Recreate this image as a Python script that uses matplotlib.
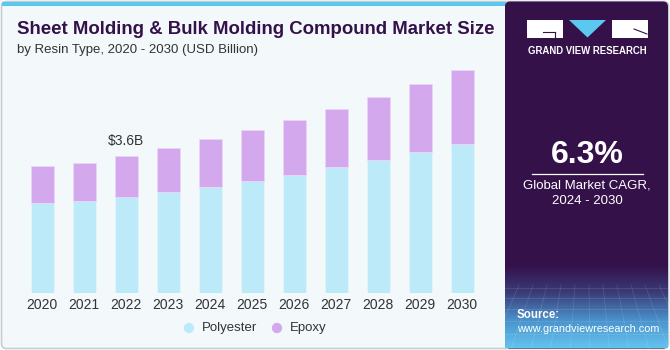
import matplotlib
matplotlib.use("Agg")
import matplotlib.pyplot as plt
import numpy as np
from matplotlib.patches import FancyBboxPatch, Rectangle, Polygon

years = ["2020", "2021", "2022", "2023", "2024", "2025", "2026", "2027", "2028", "2029", "2030"]
polyester = [2.37, 2.41, 2.53, 2.66, 2.79, 2.94, 3.11, 3.30, 3.49, 3.71, 3.92]
epoxy = [0.97, 1.00, 1.07, 1.15, 1.25, 1.34, 1.44, 1.54, 1.66, 1.79, 1.94]
series_names = ["Polyester", "Epoxy"]
series_colors = ["#BDEAF9", "#D4A8EC"]
callout_year = "2022"
callout_text = "$3.6B"

PURPLE = "#35114A"
BG = "#F3F8FB"

plt.rcParams["font.family"] = ["Liberation Sans", "DejaVu Sans"]

W, H = 670, 350
fig = plt.figure(figsize=(W / 100, H / 100), dpi=100)
fig.patch.set_facecolor("white")

# decoration layer in pixel coords (origin top-left)
deco = fig.add_axes([0, 0, 1, 1], zorder=0)
deco.set_xlim(0, W)
deco.set_ylim(H, 0)
deco.axis("off")

deco.add_patch(FancyBboxPatch((1.5, 1.5), W - 3, H - 3, boxstyle="round,pad=0,rounding_size=5",
                              facecolor=BG, edgecolor="#C8CCD0", linewidth=1.2))
deco.add_patch(Rectangle((2, 1.5), 504, 4.5, facecolor="#5BC8EF", edgecolor="none"))

# right panel
deco.add_patch(FancyBboxPatch((505, 1.5), W - 507, H - 3, boxstyle="round,pad=0,rounding_size=5",
                              facecolor=PURPLE, edgecolor="none"))
grad = np.linspace(0, 1, 100)[:, None]
cmap = matplotlib.colors.LinearSegmentedColormap.from_list("g", [PURPLE, "#3A3C78", "#4A92CC", "#63C3EE"])
deco.imshow(grad, cmap=cmap, extent=(505, W - 2, 348, 265), aspect="auto", zorder=1,
            interpolation="bilinear")
deco.set_xlim(0, W)
deco.set_ylim(H, 0)
# faint grid in the gradient area
for x in np.arange(505, W, 14):
    deco.plot([x, x + (x - 587) * 0.4], [285, 348], color="white", alpha=0.12, lw=0.6, zorder=2)
for y in [288, 298, 309, 321, 334]:
    deco.plot([505, W - 2], [y, y], color="white", alpha=0.12, lw=0.6, zorder=2)

# logo
deco.add_patch(Rectangle((527, 20), 36, 17.5, facecolor="white", edgecolor="none", zorder=3))
deco.add_patch(Polygon([(569, 20), (606, 20), (587.5, 37.5)], closed=True, facecolor="#5BC8EF",
                       edgecolor="none", zorder=3))
deco.add_patch(Rectangle((612, 20), 36, 17.5, facecolor="white", edgecolor="none", zorder=3))
deco.plot([543, 555], [32, 32], color=PURPLE, lw=0.8, zorder=4)
deco.plot([555, 555], [32, 37.5], color=PURPLE, lw=0.8, zorder=4)
deco.plot([634, 647], [29, 34], color=PURPLE, lw=0.8, zorder=4)
deco.text(587.5, 51, "GRAND VIEW RESEARCH", color="white", fontsize=6.9, fontweight="bold",
          ha="center", va="center", zorder=4)

deco.text(587, 155, "6.3%", color="white", fontsize=23, fontweight="bold", ha="center", va="center", zorder=4)
deco.plot([532, 643], [173.5, 173.5], color="white", lw=0.9, zorder=4)
deco.text(587, 186, "Global Market CAGR,", color="white", fontsize=9.5, ha="center", va="center", zorder=4)
deco.text(587, 201, "2024 - 2030", color="white", fontsize=9.5, ha="center", va="center", zorder=4)

deco.text(517, 315, "Source:", color="white", fontsize=8.3, fontweight="bold", ha="left", va="center", zorder=4)
deco.text(517, 329.5, "www.grandviewresearch.com", color="white", fontsize=7.8, ha="left", va="center", zorder=4)

# titles
deco.text(17, 30, "Sheet Molding & Bulk Molding Compound Market Size", color=PURPLE,
          fontsize=13.4, fontweight="bold", ha="left", va="center")
deco.text(17, 50, "by Resin Type, 2020 - 2030 (USD Billion)", color="#333333",
          fontsize=9.5, ha="left", va="center")

# legend
for cx, label, color in [(189, series_names[0], series_colors[0]), (277, series_names[1], series_colors[1])]:
    deco.scatter([cx], [328], s=55, color=color, edgecolor="none", zorder=3)
    deco.text(cx + 13, 328, label, color="#333333", fontsize=9.5, ha="left", va="center")

# bar chart
ax_left, ax_right = 21.3, 483.3
ax_bottom, ax_top = 292.7, 60
ax = fig.add_axes([ax_left / W, (H - ax_bottom) / H, (ax_right - ax_left) / W, (ax_bottom - ax_top) / H],
                  zorder=2)
ax.patch.set_alpha(0)
x = np.arange(len(years))
ax.bar(x, polyester, width=0.56, color=series_colors[0], edgecolor="#E2F5FC", linewidth=0.6)
ax.bar(x, epoxy, bottom=polyester, width=0.56, color=series_colors[1], edgecolor="#EBD6F6", linewidth=0.6)
ax.set_xlim(-0.5, len(years) - 0.5)
ax.set_ylim(0, (ax_bottom - ax_top) / 37.97)
ax.set_xticks(x)
ax.set_xticklabels(years, fontsize=10, color="#333333")
ax.tick_params(axis="x", length=0, pad=4)
ax.set_yticks([])
for s in ax.spines.values():
    s.set_visible(False)

i = years.index(callout_year)
ax.text(x[i], polyester[i] + epoxy[i] + 0.2, callout_text, ha="center", va="bottom",
        fontsize=10, color="#333333")

fig.savefig("out.png", dpi=100, facecolor=fig.get_facecolor())
plt.close(fig)
